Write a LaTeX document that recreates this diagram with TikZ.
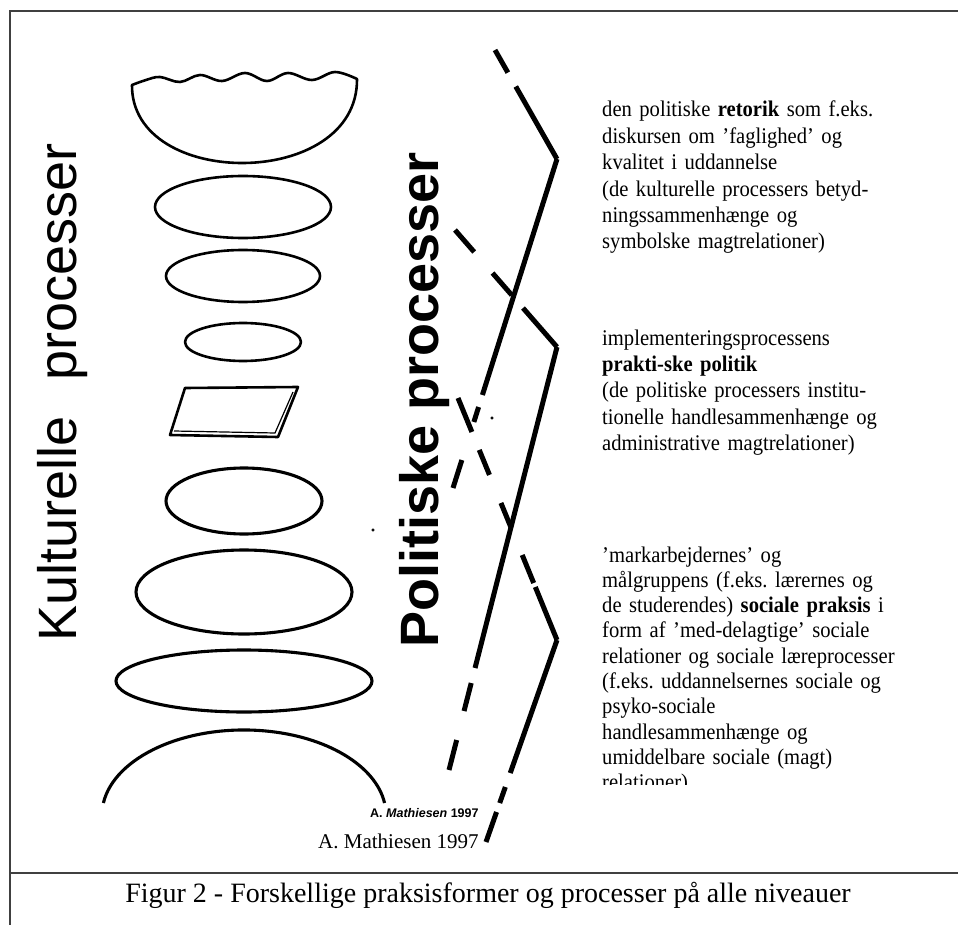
\documentclass[tikz,border=0pt]{standalone}
\usepackage{fontspec}
\setmainfont{Liberation Serif}
\setsansfont{Liberation Sans}
\newfontfamily\notefont[FakeStretch=0.92]{Liberation Serif}
\tikzset{
  outline/.style={line width=2.6pt, line join=round},
  outline_heavy/.style={line width=3.1pt, line join=round},
  chevron/.style={line width=5pt},
  frame_line/.style={line width=2pt, draw=black!75},
  note/.style={anchor=base west, inner sep=0pt, text width=330pt, align=left,
    font=\notefont\fontsize{22.4}{26.4}\selectfont\frenchspacing},
  big_label/.style={rotate=90, anchor=base, inner sep=0pt,
    font=\fontsize{54}{60}\selectfont\sffamily},
  big_label_bold/.style={big_label, font=\fontsize{54}{60}\selectfont\sffamily\bfseries},
}

\begin{document}
\begin{tikzpicture}[x=1pt, y=-1pt]
    \useasboundingbox (0,0) rectangle (958,925);
    % frame
    \draw[frame_line] (10,925) -- (10,11) -- (958,11);
    \draw[frame_line] (10,873) -- (958,873);
    % cultural processes (shapes)
    \draw[outline] plot[smooth, tension=0.6] coordinates {(132,85) (146,80) (160,77) (180,82)
        (200,75) (222,81) (245,73) (267,81) (288,73) (312,80) (335,72) (357,79)}
        .. controls (358,190) and (131,190) .. (132,85) -- cycle;
    \draw[outline] (243,207) ellipse[x radius=88, y radius=31];
    \draw[outline] (243,276) ellipse[x radius=77, y radius=26];
    \draw[outline] (243,342) ellipse[x radius=58, y radius=19];
    \draw[outline] (185,388) -- (298,387) -- (278,437) -- (170,435) -- cycle;
    \draw[line width=1.2pt] (293,392) -- (275,433) -- (174,431);
    \draw[outline_heavy] (244,501) ellipse[x radius=78, y radius=33];
    \draw[outline_heavy] (244,592) ellipse[x radius=108, y radius=42];
    \draw[outline_heavy] (244,681) ellipse[x radius=128, y radius=31];
    \draw[outline_heavy] (103.4,803) arc[start angle=188.1, end angle=351.9, x radius=142, y radius=85];
    % specks
    \draw[fill] (492,418) circle[radius=1.3];
    \draw[fill] (373,530) circle[radius=1.3];
    % define chevron points
    \coordinate (c1_start) at (495,50);
    \coordinate (c1_tip) at (557,159);
    \coordinate (c1_end) at (453,488);
    \coordinate (c2_start) at (455,230);
    \coordinate (c2_tip) at (557,347);
    \coordinate (c2_end) at (449,770);
    \coordinate (c3_start) at (458,398);
    \coordinate (c3_tip) at (557,640);
    \coordinate (c3_end) at (486,842);
    % draw chevrons
    \draw[chevron, dash pattern=on 26pt off 16pt on 200pt] (c1_start) -- (c1_tip);
    \draw[chevron, dash pattern=on 247.5pt off 12.6pt on 15.7pt off 39.9pt on 60pt] (c1_tip) -- (c1_end);
    \draw[chevron, dash pattern=on 29.2pt off 27.9pt on 29.2pt off 17.2pt on 100pt] (c2_start) -- (c2_tip);
    \draw[chevron, dash pattern=on 331.3pt off 15.5pt on 28.9pt off 29.9pt on 60pt] (c2_tip) -- (c2_end);
    \draw[chevron, dash pattern=on 36.7pt off 19.4pt on 27pt off 30.3pt on 25.9pt off 30.3pt on 30.3pt off 4.3pt on 100pt] (c3_start) -- (c3_tip);
    \draw[chevron, dash pattern=on 141pt off 14.8pt on 17pt off 9.5pt on 60pt] (c3_tip) -- (c3_end);
    % labels
    \node[big_label] (label_kult) at (76,392.5) {Kulturelle\hspace{0.68em}processer};
    \node[big_label_bold] (label_pol) at (438,400) {Politiske processer};
    % notes
    \node[note] (note_retorik) at (602,117) {den politiske \textbf{retorik} som f.eks.\\
        diskursen om ’faglighed’ og\\
        kvalitet i uddannelse\\
        (de kulturelle processers betyd-\\
        ningssammenhænge og\\
        symbolske magtrelationer)};
    \node[note] (note_politik) at (602,345) {implementeringsprocessens\\
        \textbf{prakti-ske politik}\\
        (de politiske processers institu-\\
        tionelle handlesammenhænge og\\
        administrative magtrelationer)};
    \begin{scope}
        \clip (590,540) rectangle (958,784);
        \node[note, font=\notefont\fontsize{22.4}{25.3}\selectfont\frenchspacing] (note_praksis) at (602,562) {’markarbejdernes’ og\\
            målgruppens (f.eks. lærernes og\\
            de studerendes) \textbf{sociale praksis} i\\
            form af ’med-delagtige’ sociale\\
            relationer og sociale læreprocesser\\
            (f.eks. uddannelsernes sociale og\\
            psyko-sociale\\
            handlesammenhænge og\\
            umiddelbare sociale (magt)\\
            relationer)};
    \end{scope}
    % credits and caption
    \node[anchor=base west, inner sep=0pt, font=\fontsize{12.5}{14}\selectfont\sffamily\bfseries] (credit_small) at (370,817) {A. \textit{Mathiesen} 1997};
    \node[anchor=base west, inner sep=0pt, font=\fontsize{21}{25}\selectfont] (credit) at (318,848) {A. Mathiesen 1997};
    \node[anchor=base, inner sep=0pt, font=\fontsize{28}{32}\selectfont] (caption) at (488,902) {Figur 2 - Forskellige praksisformer og processer på alle niveauer};
\end{tikzpicture}
\end{document}
